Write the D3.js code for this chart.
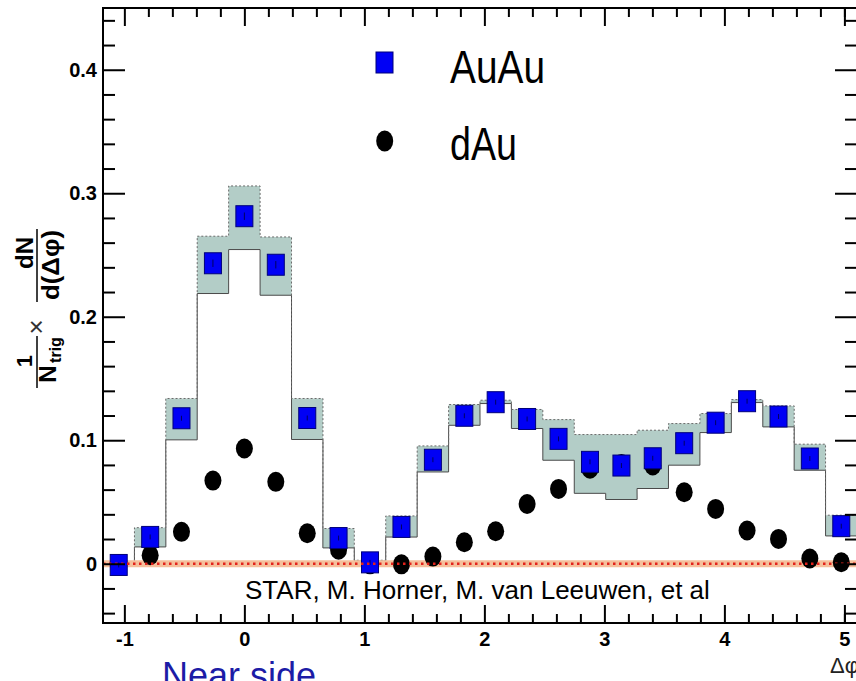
<!DOCTYPE html>
<html>
<head>
<meta charset="utf-8">
<script src="https://cdn.jsdelivr.net/npm/d3@7"></script>
<style>
  html, body { margin: 0; padding: 0; background: #fff; }
  svg { display: block; }
  text { font-family: "Liberation Sans", Arial, Helvetica, sans-serif; }
</style>
</head>
<body>
<svg id="chart" width="856" height="681"></svg>
<script>
// Δφ bin centres (bins of width π/12)
const phi = [-1.047, -0.785, -0.524, -0.262, 0.000, 0.262, 0.524, 0.785,
             1.047, 1.309, 1.571, 1.833, 2.094, 2.356, 2.618, 2.880,
             3.142, 3.403, 3.665, 3.927, 4.189, 4.451, 4.712, 4.974];
const binHalfWidth = 0.1309;

// Au+Au associated yield per trigger
const auau = [-0.0010, 0.0217, 0.1178, 0.2433, 0.2814, 0.2421, 0.1180, 0.0208,
              0.0011, 0.0298, 0.0842, 0.1198, 0.1308, 0.1172, 0.1011, 0.0825,
              0.0795, 0.0854, 0.0976, 0.1142, 0.1316, 0.1192, 0.0852, 0.0304];
// Au+Au statistical errors
const auauStat = [0.002, 0.002, 0.002, 0.003, 0.003, 0.003, 0.002, 0.002,
                  0.002, 0.002, 0.002, 0.002, 0.002, 0.002, 0.002, 0.002,
                  0.002, 0.002, 0.002, 0.002, 0.002, 0.002, 0.002, 0.002];
// Au+Au systematic band (upper / lower edge)
const auauSysHi = [0.0015, 0.0292, 0.1338, 0.2652, 0.3059, 0.2646, 0.1338, 0.0285,
                   0.0028, 0.0387, 0.0954, 0.1289, 0.1324, 0.1249, 0.1167, 0.1046,
                   0.1046, 0.1081, 0.1135, 0.1216, 0.1329, 0.1278, 0.0968, 0.0393];
const auauSysLo = [-0.0018, 0.0136, 0.1003, 0.2188, 0.2544, 0.2174, 0.1006, 0.0128,
                   -0.0004, 0.0216, 0.0743, 0.1121, 0.1297, 0.1095, 0.0838, 0.0570,
                   0.0520, 0.0609, 0.0798, 0.1062, 0.1305, 0.1108, 0.0757, 0.0225];

// d+Au associated yield per trigger
const dau = [-0.0005, 0.0069, 0.0258, 0.0673, 0.0933, 0.0663, 0.0247, 0.0114,
             -0.0005, -0.0005, 0.0058, 0.0174, 0.0263, 0.0484, 0.0606, 0.0769,
             0.0808, 0.0796, 0.0579, 0.0444, 0.0269, 0.0201, 0.0042, 0.0012];

const xMajor = [-1, 0, 1, 2, 3, 4, 5];
const xMinor = [-0.8, -0.6, -0.4, -0.2, 0.2, 0.4, 0.6, 0.8, 1.2, 1.4, 1.6, 1.8,
                2.2, 2.4, 2.6, 2.8, 3.2, 3.4, 3.6, 3.8, 4.2, 4.4, 4.6, 4.8, 5.0];
const yMajor = [0, 0.1, 0.2, 0.3, 0.4];
const yMinor = [-0.04, -0.02, 0.02, 0.04, 0.06, 0.08, 0.12, 0.14, 0.16, 0.18,
                0.22, 0.24, 0.26, 0.28, 0.32, 0.34, 0.36, 0.38, 0.42, 0.44];

const seriesNames = ["AuAu", "dAu"];
const creditText = "STAR, M. Horner, M. van Leeuwen, et al";
const regionText = "Near side";

// ---- layout ----
const frame = { left: 103, top: 8, right: 857, bottom: 623 };
const svg = d3.select("#chart");

const x = d3.scaleLinear().domain([-1.178, 5.105]).range([frame.left, frame.right]);
const y = d3.scaleLinear().domain([-0.048, 0.45]).range([frame.bottom, frame.top]);

svg.append("defs").append("clipPath").attr("id", "plot-clip")
  .append("rect")
  .attr("x", frame.left).attr("y", frame.top)
  .attr("width", frame.right - frame.left).attr("height", frame.bottom - frame.top);

const plot = svg.append("g").attr("clip-path", "url(#plot-clip)");

// ---- systematic band as a step histogram ----
const edges = [];
phi.forEach((p, i) => {
  edges.push({ phi: p - binHalfWidth, hi: auauSysHi[i], lo: auauSysLo[i] });
  edges.push({ phi: p + binHalfWidth, hi: auauSysHi[i], lo: auauSysLo[i] });
});

plot.append("path")
  .datum(edges)
  .attr("fill", "#b3cdc7")
  .attr("d", d3.area().x(d => x(d.phi)).y0(d => y(d.lo)).y1(d => y(d.hi)));

plot.append("path")
  .datum(edges)
  .attr("fill", "none")
  .attr("stroke", "#4a4a4a")
  .attr("stroke-width", 1)
  .attr("d", d3.line().x(d => x(d.phi)).y(d => y(d.lo)));

plot.append("path")
  .datum(edges)
  .attr("fill", "none")
  .attr("stroke", "#6a6a6a")
  .attr("stroke-width", 1)
  .attr("stroke-dasharray", "2,2")
  .attr("d", d3.line().x(d => x(d.phi)).y(d => y(d.hi)));

// ---- zero line (band + dotted) ----
plot.append("line")
  .attr("x1", frame.left).attr("x2", frame.right)
  .attr("y1", y(0)).attr("y2", y(0))
  .attr("stroke", "#f5bf9b").attr("stroke-width", 7);

// ---- d+Au points ----
plot.selectAll("ellipse.dau")
  .data(phi)
  .join("ellipse")
  .attr("class", "dau")
  .attr("cx", d => x(d))
  .attr("cy", (d, i) => y(dau[i]))
  .attr("rx", 8.5).attr("ry", 10)
  .attr("fill", "#000");

// ---- Au+Au points ----
const sqW = 17, sqH = 21;
plot.selectAll("rect.auau")
  .data(phi)
  .join("rect")
  .attr("class", "auau")
  .attr("x", d => x(d) - sqW / 2)
  .attr("y", (d, i) => y(auau[i]) - sqH / 2)
  .attr("width", sqW).attr("height", sqH)
  .attr("fill", "#0000f5")
  .attr("stroke", "#00007a").attr("stroke-width", 1);

plot.selectAll("line.stat")
  .data(phi)
  .join("line")
  .attr("class", "stat")
  .attr("x1", d => x(d)).attr("x2", d => x(d))
  .attr("y1", (d, i) => y(auau[i] + auauStat[i]))
  .attr("y2", (d, i) => y(auau[i] - auauStat[i]))
  .attr("stroke", "#000060").attr("stroke-width", 1);

// dotted red reference line on top
plot.append("line")
  .attr("x1", frame.left).attr("x2", frame.right)
  .attr("y1", y(0)).attr("y2", y(0))
  .attr("stroke", "#e3221b").attr("stroke-width", 2.5)
  .attr("stroke-dasharray", "2.5,3.5");

// ---- axes ----
const noLabel = () => "";
function tickGroup(axis, tx, ty) {
  const g = svg.append("g").attr("transform", `translate(${tx},${ty})`).call(axis);
  g.select(".domain").remove();
  g.selectAll(".tick line").attr("stroke", "#000").attr("stroke-width", 2);
  return g;
}
// bottom (ticks pointing inward)
tickGroup(d3.axisTop(x).tickValues(xMajor).tickSize(18).tickFormat(noLabel), 0, frame.bottom);
tickGroup(d3.axisTop(x).tickValues(xMinor).tickSize(9).tickFormat(noLabel), 0, frame.bottom);
// top
tickGroup(d3.axisBottom(x).tickValues(xMajor).tickSize(18).tickFormat(noLabel), 0, frame.top);
tickGroup(d3.axisBottom(x).tickValues(xMinor).tickSize(9).tickFormat(noLabel), 0, frame.top);
// left
tickGroup(d3.axisRight(y).tickValues(yMajor).tickSize(22).tickFormat(noLabel), frame.left, 0);
tickGroup(d3.axisRight(y).tickValues(yMinor).tickSize(12).tickFormat(noLabel), frame.left, 0);
// right
tickGroup(d3.axisLeft(y).tickValues(yMajor).tickSize(22).tickFormat(noLabel), frame.right, 0);
tickGroup(d3.axisLeft(y).tickValues(yMinor).tickSize(12).tickFormat(noLabel), frame.right, 0);

// tick labels
const xl = svg.append("g").attr("transform", `translate(0,${frame.bottom})`)
  .call(d3.axisBottom(x).tickValues(xMajor).tickSize(0).tickPadding(9).tickFormat(d => String(d)));
xl.select(".domain").remove();
xl.selectAll("text")
  .attr("font-family", "'Liberation Sans', Arial, sans-serif")
  .attr("font-size", 20).attr("font-weight", "bold").attr("fill", "#000");

const yl = svg.append("g").attr("transform", `translate(${frame.left},0)`)
  .call(d3.axisLeft(y).tickValues(yMajor).tickSize(0).tickPadding(6)
    .tickFormat(d => d === 0 ? "0" : d.toFixed(1)));
yl.select(".domain").remove();
yl.selectAll("text")
  .attr("font-family", "'Liberation Sans', Arial, sans-serif")
  .attr("font-size", 20).attr("font-weight", "bold").attr("fill", "#000");

// frame
svg.append("rect")
  .attr("x", frame.left).attr("y", frame.top)
  .attr("width", frame.right - frame.left).attr("height", frame.bottom - frame.top)
  .attr("fill", "none").attr("stroke", "#000").attr("stroke-width", 2);

// ---- legend ----
const legend = svg.append("g");
legend.append("rect")
  .attr("x", 376).attr("y", 52).attr("width", sqW).attr("height", sqH)
  .attr("fill", "#0000f5").attr("stroke", "#00007a").attr("stroke-width", 1);
legend.append("ellipse")
  .attr("cx", 384.7).attr("cy", 141).attr("rx", 8.5).attr("ry", 10.5).attr("fill", "#000");
legend.append("text")
  .attr("x", 450).attr("y", 83)
  .attr("font-size", 47).attr("textLength", 95).attr("lengthAdjust", "spacingAndGlyphs")
  .text(seriesNames[0]);
legend.append("text")
  .attr("x", 450).attr("y", 160)
  .attr("font-size", 47).attr("textLength", 67).attr("lengthAdjust", "spacingAndGlyphs")
  .text(seriesNames[1]);

// ---- annotations ----
svg.append("text")
  .attr("x", 245).attr("y", 599)
  .attr("font-size", 26).attr("fill", "#000")
  .text(creditText);

svg.append("text")
  .attr("x", 830).attr("y", 673)
  .attr("font-family", "'DejaVu Serif', 'Liberation Serif', serif")
  .attr("font-size", 22).attr("fill", "#222")
  .text("Δφ");

svg.append("text")
  .attr("x", 162).attr("y", 688)
  .attr("font-size", 36).attr("fill", "#1c1ca6")
  .text(regionText);

// ---- y-axis title: 1/N_trig × dN/d(Δφ) ----
const yt = svg.append("g").attr("transform", "rotate(-90)");
const bold = sel => sel.attr("font-weight", "bold").attr("fill", "#000");
// second fraction
yt.append("text").attr("x", -253).attr("y", 33).attr("text-anchor", "middle")
  .attr("font-size", 24).call(bold).text("dN");
yt.append("line").attr("x1", -229).attr("x2", -302).attr("y1", 37).attr("y2", 37)
  .attr("stroke", "#000").attr("stroke-width", 1.5);
yt.append("text").attr("x", -265).attr("y", 59).attr("text-anchor", "middle")
  .attr("font-size", 24).attr("textLength", 70).attr("lengthAdjust", "spacingAndGlyphs")
  .call(bold).text("d(Δφ)");
// multiplication sign
yt.append("text").attr("x", -327).attr("y", 45).attr("text-anchor", "middle")
  .attr("font-size", 26).attr("fill", "#333").text("×");
// first fraction
yt.append("text").attr("x", -361).attr("y", 32).attr("text-anchor", "middle")
  .attr("font-size", 22).call(bold).text("1");
yt.append("line").attr("x1", -336).attr("x2", -388).attr("y1", 37).attr("y2", 37)
  .attr("stroke", "#000").attr("stroke-width", 1.5);
yt.append("text").attr("x", -374).attr("y", 56).attr("text-anchor", "middle")
  .attr("font-size", 24).call(bold).text("N");
yt.append("text").attr("x", -350).attr("y", 61).attr("text-anchor", "middle")
  .attr("font-size", 16).call(bold).text("trig");
</script>
</body>
</html>
